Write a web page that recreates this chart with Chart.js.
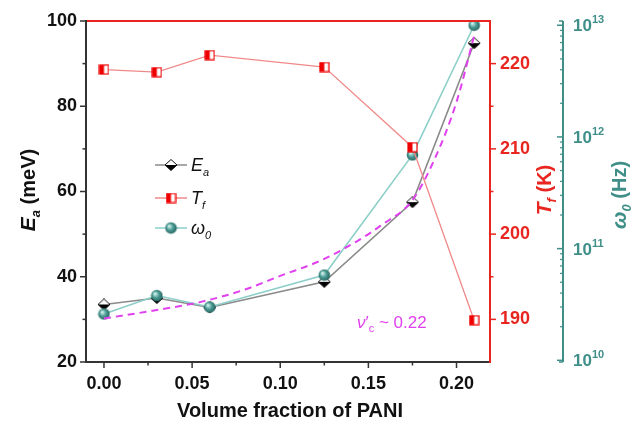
<!DOCTYPE html>
<html><head><meta charset="utf-8">
<script src="https://cdn.jsdelivr.net/npm/chart.js@4/dist/chart.umd.min.js"></script>
<style>html,body{margin:0;padding:0;background:#fff}#wrap{width:644px;height:429px;position:relative}</style>
</head><body><div id="wrap"><canvas id="c"></canvas></div>
<script>
// ---- data ----
const fraction = [0, 0.03, 0.06, 0.125, 0.175, 0.21];
const activationEnergy = [33.5, 35.0, 32.8, 38.8, 57.5, 94.8];     // Ea (meV)
const freezingTemp = [219.3, 219.0, 221.0, 219.6, 210.2, 189.9];   // Tf (K)
const attemptFreq = [2.6e10, 3.8e10, 3.0e10, 5.8e10, 6.9e11, 1.0e13]; // omega0 (Hz)
const fitFraction = [0, 0.03, 0.055, 0.08, 0.1, 0.123, 0.143, 0.157, 0.175, 0.188, 0.2, 0.21];
const fitEnergy = [30.2, 32.2, 34.1, 37.0, 40.2, 43.8, 48.2, 52.0, 58.0, 68.0, 81.0, 96.5];
const xTicks = [0, 0.05, 0.10, 0.15, 0.20];
const xMinorTicks = [0.025, 0.075, 0.125, 0.175];
const eaTicks = [20, 40, 60, 80, 100];
const eaMinorTicks = [30, 50, 70, 90];
const tfTicks = [190, 200, 210, 220];
const tfMinorTicks = [195, 205, 215];
const freqTicks = [1e10, 1e11, 1e12, 1e13];
const freqExponents = ['10', '11', '12', '13'];

const FONT = "'Liberation Sans', Arial, sans-serif";
const RED = '#e8251f', TEAL = '#3f8f88', MAG = '#e040ee';

// ---- marker images ----
function diamondImg(){
  const c=document.createElement('canvas'); c.width=14; c.height=12; const g=c.getContext('2d');
  g.beginPath(); g.moveTo(1,6); g.lineTo(13,6); g.lineTo(7,11.5); g.closePath(); g.fillStyle='#000'; g.fill();
  g.beginPath(); g.moveTo(1,6); g.lineTo(7,0.5); g.lineTo(13,6); g.closePath(); g.fillStyle='#fff'; g.fill();
  g.beginPath(); g.moveTo(1,6); g.lineTo(7,0.5); g.lineTo(13,6); g.lineTo(7,11.5); g.closePath();
  g.strokeStyle='#111'; g.lineWidth=1; g.stroke(); return c;
}
function squareImg(){
  const c=document.createElement('canvas'); c.width=11; c.height=11; const g=c.getContext('2d');
  g.fillStyle='#fff'; g.fillRect(1,1,9,9);
  g.fillStyle='#e00'; g.fillRect(1,1,4.5,9);
  g.strokeStyle='#e00'; g.lineWidth=1.2; g.strokeRect(1,1,9,9); return c;
}
function sphereImg(){
  const c=document.createElement('canvas'); c.width=13; c.height=13; const g=c.getContext('2d');
  const gr=g.createRadialGradient(4.5,4.5,0.5,6.5,6.5,6.5);
  gr.addColorStop(0,'#d8f4f0'); gr.addColorStop(0.45,'#4d9e97'); gr.addColorStop(1,'#1f5c57');
  g.beginPath(); g.arc(6.5,6.5,5.8,0,Math.PI*2); g.fillStyle=gr; g.fill(); return c;
}
const DIA=diamondImg(), SQ=squareImg(), SPH=sphereImg();

function pts(xs, ys){ return xs.map((x,i)=>({x:x, y:ys[i]})); }

// draw mixed text runs [{t, font, dy}] starting at x along baseline
function runs(ctx, list, x, y, color){
  ctx.fillStyle=color; ctx.textBaseline='alphabetic'; ctx.textAlign='left';
  let w=0; list.forEach(r=>{ ctx.font=r.font; w+=ctx.measureText(r.t).width + (r.gap||0); });
  return {w:w, draw:(sx)=>{ let cx=sx; list.forEach(r=>{ ctx.font=r.font; ctx.fillText(r.t, cx, y+(r.dy||0)); cx+=ctx.measureText(r.t).width+(r.gap||0); }); }};
}
function rotatedTitle(ctx, list, cx, cy, color){
  ctx.save(); ctx.translate(cx, cy); ctx.rotate(-Math.PI/2);
  const r=runs(ctx, list, 0, 7, color); r.draw(-r.w/2); ctx.restore();
}
function line(ctx,x1,y1,x2,y2,c,w){ ctx.beginPath(); ctx.moveTo(x1,y1); ctx.lineTo(x2,y2); ctx.strokeStyle=c; ctx.lineWidth=w; ctx.stroke(); }

const decor = {
  id:'decor',
  afterDatasetsDraw(chart){
    const {ctx, chartArea:a, scales:s} = chart;
    ctx.save();
    // frame
    line(ctx, a.left, a.top, a.right, a.top, RED, 2);
    line(ctx, a.left, a.bottom, a.right, a.bottom, '#333', 2);
    line(ctx, a.left, a.top-1, a.left, a.bottom+1, '#333', 2);
    line(ctx, a.right, a.top-1, a.right, a.bottom+1, RED, 2);
    // x ticks
    xTicks.forEach(v=>{ const p=s.x.getPixelForValue(v); line(ctx,p,a.bottom,p,a.bottom+6,'#333',1.5); });
    xMinorTicks.forEach(v=>{ const p=s.x.getPixelForValue(v); line(ctx,p,a.bottom,p,a.bottom+3.5,'#333',1.5); });
    // Ea ticks
    eaTicks.forEach(v=>{ const p=s.y.getPixelForValue(v); line(ctx,a.left,p,a.left-6,p,'#333',1.5); });
    eaMinorTicks.forEach(v=>{ const p=s.y.getPixelForValue(v); line(ctx,a.left,p,a.left-3.5,p,'#333',1.5); });
    // Tf ticks
    tfTicks.forEach(v=>{ const p=s.yT.getPixelForValue(v); line(ctx,a.right,p,a.right+6,p,RED,1.5); });
    tfMinorTicks.forEach(v=>{ const p=s.yT.getPixelForValue(v); line(ctx,a.right,p,a.right+3.5,p,RED,1.5); });
    // omega axis
    const wx = s.yW.left;
    line(ctx, wx, a.top, wx, a.bottom, TEAL, 2);
    line(ctx, wx, a.top, wx-4, a.top, TEAL, 1.5);
    line(ctx, wx, a.bottom, wx-4, a.bottom, TEAL, 1.5);
    freqTicks.forEach((v,i)=>{
      const p=s.yW.getPixelForValue(v);
      line(ctx,wx,p,wx-6,p,TEAL,1.5);
      if(i<freqTicks.length-1){ for(let k=2;k<=9;k++){ const q=s.yW.getPixelForValue(v*k); line(ctx,wx,q,wx-3,q,TEAL,1.2); } }
      const r=runs(ctx,[{t:'10',font:`bold 17px ${FONT}`},{t:freqExponents[i],font:`bold 11px ${FONT}`,dy:-8,gap:0}], 0, p+6, TEAL);
      r.draw(wx+10);
    });
    // axis titles
    rotatedTitle(ctx,[{t:'E',font:`italic bold 21px ${FONT}`},{t:'a',font:`italic bold 13px ${FONT}`,dy:5},{t:' (meV)',font:`bold 20px ${FONT}`}], 28, 190, '#111');
    rotatedTitle(ctx,[{t:'T',font:`italic bold 21px ${FONT}`},{t:'f',font:`italic bold 13px ${FONT}`,dy:5},{t:' (K)',font:`bold 20px ${FONT}`}], 544, 190, RED);
    rotatedTitle(ctx,[{t:'ω',font:`italic bold 21px ${FONT}`},{t:'0',font:`italic bold 13px ${FONT}`,dy:5},{t:' (Hz)',font:`bold 20px ${FONT}`}], 619, 195, TEAL);
    // x title
    ctx.font=`bold 20px ${FONT}`; ctx.fillStyle='#111'; ctx.textAlign='center'; ctx.textBaseline='middle';
    ctx.fillText('Volume fraction of PANI', 290, 411);
    // legend
    const leg=[
      {img:DIA, c:'#8a8a8a', y:165, t:'E', sub:'a'},
      {img:SQ, c:'#f08a8a', y:198, t:'T', sub:'f'},
      {img:SPH, c:'#8ccfc8', y:228, t:'ω', sub:'0'}];
    leg.forEach(l=>{
      line(ctx,155,l.y,187,l.y,l.c,1.5);
      ctx.drawImage(l.img, 171-l.img.width/2, l.y-l.img.height/2);
      const r=runs(ctx,[{t:l.t,font:`italic 18px ${FONT}`},{t:l.sub,font:`italic 11px ${FONT}`,dy:5}],0,l.y+6,'#111');
      r.draw(191);
    });
    // percolation annotation
    const r=runs(ctx,[{t:'ν',font:`italic 17px ${FONT}`},{t:'\u2032',font:`17px ${FONT}`},{t:'c',font:`11px ${FONT}`,dy:4},{t:' ~ 0.22',font:`17px ${FONT}`}],0,328,MAG);
    r.draw(357);
    ctx.restore();
  }
};

new Chart(document.getElementById('c'), {
  type:'line',
  data:{ datasets:[
    {label:'Tf', data:pts(fraction, freezingTemp), yAxisID:'yT', borderColor:'#f08a8a', borderWidth:1.3, pointStyle:SQ, pointRadius:6, tension:0},
    {label:'fit', data:pts(fitFraction, fitEnergy), yAxisID:'y', borderColor:MAG, borderWidth:2, borderDash:[7,5], pointRadius:0, cubicInterpolationMode:'monotone'},
    {label:'omega0', data:pts(fraction, attemptFreq), yAxisID:'yW', borderColor:'#8ccfc8', borderWidth:1.6, pointStyle:SPH, pointRadius:6, tension:0},
    {label:'Ea', data:pts(fraction, activationEnergy), yAxisID:'y', borderColor:'#8a8a8a', borderWidth:1.6, pointStyle:DIA, pointRadius:6, tension:0}
  ]},
  options:{
    responsive:true, maintainAspectRatio:false, animation:false,
    layout:{padding:{top:21, left:0, right:0, bottom:0}},
    plugins:{legend:{display:false}, tooltip:{enabled:false}},
    scales:{
      x:{type:'linear', position:'bottom', min:-0.0102, max:0.219,
        afterBuildTicks:s=>{ s.ticks=xTicks.map(v=>({value:v})); },
        afterFit:s=>{ s.height=67; },
        grid:{display:false, drawTicks:false}, border:{display:false},
        ticks:{callback:v=>Number(v).toFixed(2), font:{family:FONT, weight:'bold', size:18}, color:'#111', padding:11, maxRotation:0, autoSkip:false}},
      y:{type:'linear', position:'left', min:20, max:100,
        afterBuildTicks:s=>{ s.ticks=eaTicks.map(v=>({value:v})); },
        afterFit:s=>{ s.width=86; },
        grid:{display:false, drawTicks:false}, border:{display:false},
        ticks:{font:{family:FONT, weight:'bold', size:18}, color:'#111', padding:9}},
      yT:{type:'linear', position:'right', weight:0, min:185, max:225,
        afterBuildTicks:s=>{ s.ticks=tfTicks.map(v=>({value:v})); },
        afterFit:s=>{ s.width=73; },
        grid:{display:false, drawTicks:false}, border:{display:false},
        ticks:{font:{family:FONT, weight:'bold', size:18}, color:RED, padding:10}},
      yW:{type:'logarithmic', position:'right', weight:1, min:Math.pow(10,9.985), max:Math.pow(10,13.038),
        afterBuildTicks:s=>{ s.ticks=freqTicks.map(v=>({value:v})); },
        afterFit:s=>{ s.width=81; },
        grid:{display:false, drawTicks:false}, border:{display:false},
        ticks:{display:false}}
    }
  },
  plugins:[decor]
});
</script>
</body></html>
